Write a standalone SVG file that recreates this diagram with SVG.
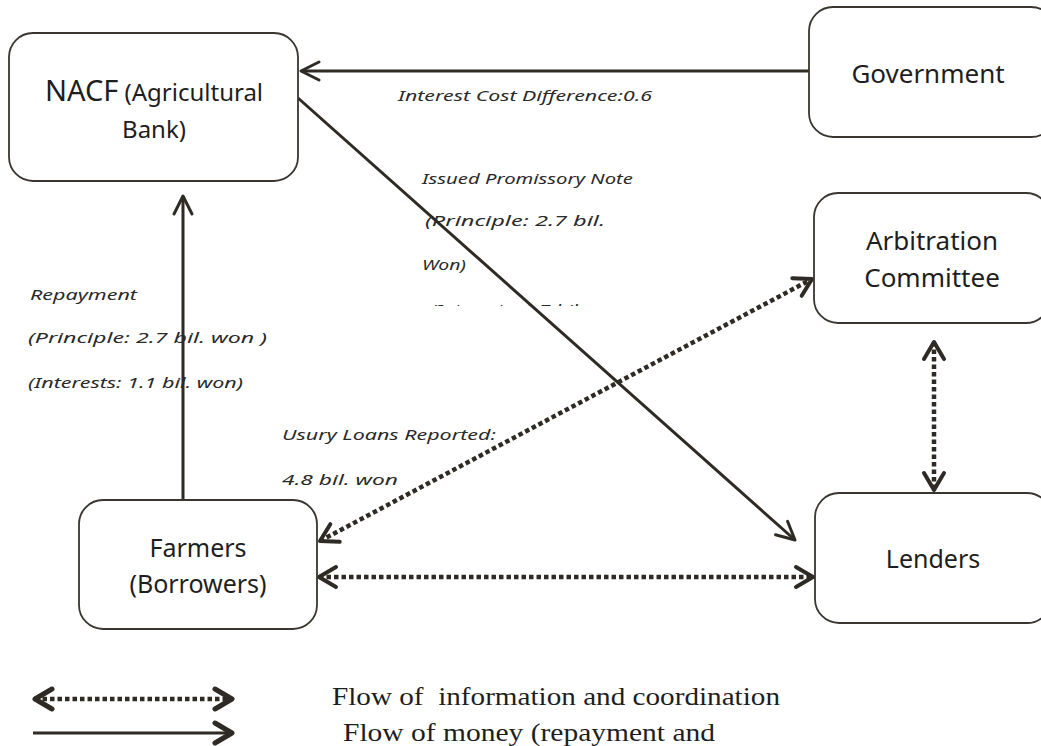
<svg xmlns="http://www.w3.org/2000/svg" width="1041" height="746" viewBox="0 0 1041 746">
<style>
.box{fill:#fff;stroke:#3a352f;stroke-width:1.8}
.nl{font-family:"Noto Sans","Open Sans",sans-serif;fill:#1e1e1e;text-anchor:middle}
.hw{font-family:"Noto Sans","DejaVu Sans",sans-serif;font-style:italic;font-size:15px;fill:#2a2a2a}
.lg{font-family:"Liberation Serif","DejaVu Serif",serif;font-size:25px;fill:#1e1e1e}
.solid{stroke:#2f2b24;fill:none;stroke-width:3}
.dot{stroke:#2f2b24;fill:none;stroke-width:4.5;stroke-dasharray:4.5 3}
</style>
<defs>
<marker id="ah" markerUnits="userSpaceOnUse" orient="auto-start-reverse" refX="0" refY="0" markerWidth="30" markerHeight="30" overflow="visible">
<path d="M-18,-9 L0,0 L-18,9" fill="none" stroke="#2f2b24" stroke-width="3" stroke-linejoin="round" stroke-linecap="round"/>
</marker>
<marker id="ahd" markerUnits="userSpaceOnUse" orient="auto-start-reverse" refX="0" refY="0" markerWidth="30" markerHeight="30" overflow="visible">
<path d="M-17,-10 L0,0 L-17,10" fill="none" stroke="#2f2b24" stroke-width="4" stroke-linejoin="round" stroke-linecap="round"/>
</marker>
<marker id="ahl" markerUnits="userSpaceOnUse" orient="auto-start-reverse" refX="0" refY="0" markerWidth="30" markerHeight="30" overflow="visible">
<path d="M-17,-10 L0,0 L-17,10" fill="none" stroke="#2f2b24" stroke-width="5" stroke-linejoin="round" stroke-linecap="round"/>
</marker>
<clipPath id="clipI"><rect x="400" y="290" width="250" height="16"/></clipPath>
</defs>
<rect width="1041" height="746" fill="#fff"/>

<g id="connectors">
<line class="solid" x1="809" y1="71" x2="301" y2="71" stroke-width="3.5" marker-end="url(#ah)"/>
<line class="solid" x1="298" y1="98" x2="795" y2="540" marker-end="url(#ah)"/>
<line class="solid" x1="183" y1="500" x2="183" y2="196" marker-end="url(#ah)"/>
<line class="dot" x1="320" y1="541" x2="812" y2="279" marker-start="url(#ahd)" marker-end="url(#ahd)"/>
<line class="dot" x1="319" y1="577" x2="813" y2="577" marker-start="url(#ahd)" marker-end="url(#ahd)"/>
<line class="dot" x1="934" y1="342" x2="934" y2="490" marker-start="url(#ahd)" marker-end="url(#ahd)"/>
</g>

<g id="nacf">
<rect class="box" x="9" y="33" width="289" height="148" rx="24"/>
<text class="nl" x="154" y="101"><tspan font-size="29">NACF</tspan><tspan font-size="24"> (Agricultural</tspan></text>
<text class="nl" x="154" y="138" font-size="24">Bank)</text>
</g>

<g id="government">
<rect class="box" x="809" y="7" width="246" height="130" rx="24"/>
<text class="nl" x="928" y="83" font-size="26">Government</text>
</g>

<g id="arbitration">
<rect class="box" x="814" y="193" width="236" height="130" rx="24"/>
<text class="nl" x="932" y="250" font-size="26">Arbitration</text>
<text class="nl" x="932" y="287" font-size="26">Committee</text>
</g>

<g id="lenders">
<rect class="box" x="815" y="493" width="236" height="130" rx="24"/>
<text class="nl" x="933" y="568" font-size="25">Lenders</text>
</g>

<g id="farmers">
<rect class="box" x="79" y="500" width="238" height="129" rx="24"/>
<text class="nl" x="198" y="557" font-size="25">Farmers</text>
<text class="nl" x="198" y="593" font-size="25">(Borrowers)</text>
</g>

<g id="labels">
<text class="hw" x="398" y="101" textLength="254" lengthAdjust="spacingAndGlyphs">Interest Cost Difference:0.6</text>
<text class="hw" x="422" y="184" textLength="211" lengthAdjust="spacingAndGlyphs">Issued Promissory Note</text>
<text class="hw" x="425" y="226" textLength="180" lengthAdjust="spacingAndGlyphs">(Principle: 2.7 bil.</text>
<text class="hw" x="422" y="270" textLength="44" lengthAdjust="spacingAndGlyphs">Won)</text>
<text class="hw" x="430" y="315" textLength="153" lengthAdjust="spacingAndGlyphs" clip-path="url(#clipI)">(Interests: 1.7 bil.</text>
<text class="hw" x="30" y="300" textLength="107" lengthAdjust="spacingAndGlyphs">Repayment</text>
<text class="hw" x="28" y="343" textLength="239" lengthAdjust="spacingAndGlyphs">(Principle: 2.7 bil. won )</text>
<text class="hw" x="28" y="388" textLength="215" lengthAdjust="spacingAndGlyphs">(Interests: 1.1 bil. won)</text>
<text class="hw" x="282" y="440" textLength="214" lengthAdjust="spacingAndGlyphs">Usury Loans Reported:</text>
<text class="hw" x="282" y="485" textLength="116" lengthAdjust="spacingAndGlyphs">4.8 bil. won</text>
</g>

<g id="legend">
<line class="dot" x1="35" y1="699" x2="232" y2="699" marker-start="url(#ahl)" marker-end="url(#ahl)"/>
<line class="solid" x1="33" y1="733" x2="232" y2="733" stroke-width="5" marker-end="url(#ahl)"/>
<text class="lg" x="332" y="705" textLength="448" lengthAdjust="spacingAndGlyphs" xml:space="preserve">Flow of  information and coordination</text>
<text class="lg" x="343" y="741" textLength="372" lengthAdjust="spacingAndGlyphs">Flow of money (repayment and</text>
</g>
</svg>
